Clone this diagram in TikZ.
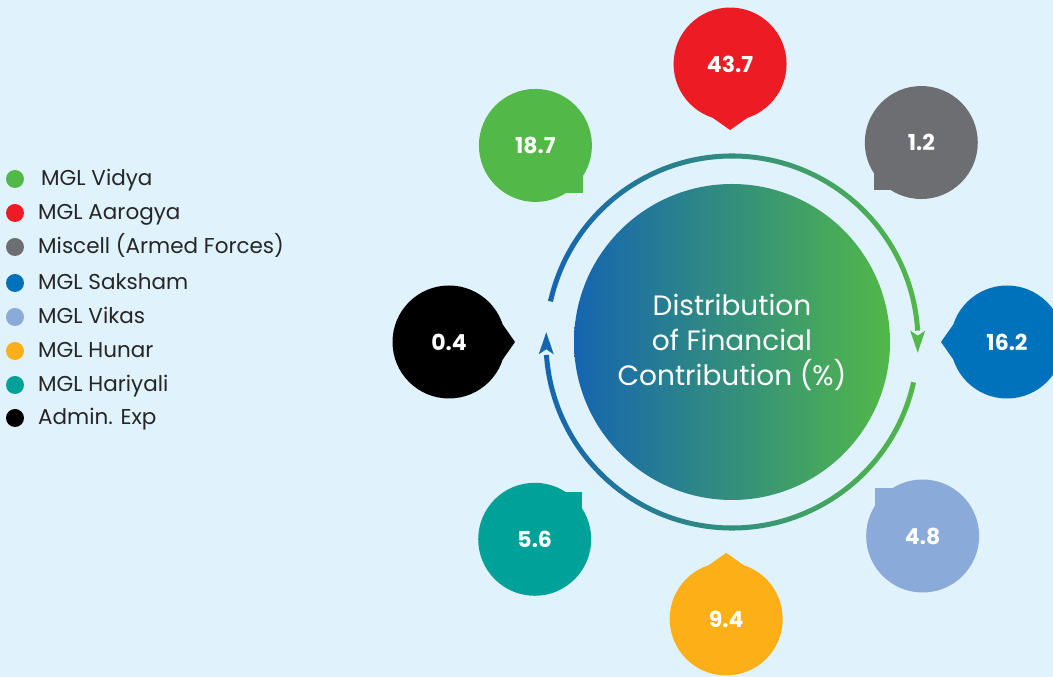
\documentclass[tikz,border=0pt]{standalone}
\usepackage{fontspec}
\setmainfont{Poppins}
\usetikzlibrary{calc}

\definecolor{bgblue}{HTML}{E0F2FC}
\definecolor{vidya}{HTML}{52B848}
\definecolor{aarogya}{HTML}{ED1C24}
\definecolor{miscell}{HTML}{6D6E71}
\definecolor{saksham}{HTML}{0072BC}
\definecolor{vikas}{HTML}{8AABD9}
\definecolor{hunar}{HTML}{FCAF17}
\definecolor{hariyali}{HTML}{00A199}
\definecolor{admin}{HTML}{000000}
\definecolor{hubblue}{HTML}{1565B0}
\definecolor{hubgreen}{HTML}{52B848}

\begin{document}
\begin{tikzpicture}[x=1pt, y=1pt,
    legenddot/.style={circle, inner sep=0pt, minimum size=18pt},
    legendlabel/.style={anchor=base west, inner sep=0pt, text=black!85,
                        font=\fontsize{21.5}{25}\selectfont},
    bubbletext/.style={text=white, inner sep=0pt,
                       font=\bfseries\fontsize{22}{26}\selectfont}]
  \fill [bgblue] (0,0) rectangle (1053,677);
  \useasboundingbox (0,0) rectangle (1053,677);

  % legend
  \node [legenddot, fill=vidya]    (vidyadot)    at (15,498) {};
  \node [legenddot, fill=aarogya]  (aarogyadot)  at (15,464) {};
  \node [legenddot, fill=miscell]  (miscelldot)  at (15,430) {};
  \node [legenddot, fill=saksham]  (sakshamdot)  at (15,394) {};
  \node [legenddot, fill=vikas]    (vikasdot)    at (15,360) {};
  \node [legenddot, fill=hunar]    (hunardot)    at (15,326) {};
  \node [legenddot, fill=hariyali] (hariyalidot) at (15,292) {};
  \node [legenddot, fill=admin]    (admindot)    at (15,259) {};
  \node [legendlabel] (vidyalabel)    at (41,491) {MGL Vidya};
  \node [legendlabel] (aarogyalabel)  at (38,457) {MGL Aarogya};
  \node [legendlabel] (miscelllabel)  at (38,423) {Miscell (Armed Forces)};
  \node [legendlabel] (sakshamlabel)  at (38,387) {MGL Saksham};
  \node [legendlabel] (vikaslabel)    at (38,353) {MGL Vikas};
  \node [legendlabel] (hunarlabel)    at (38,319) {MGL Hunar};
  \node [legendlabel] (hariyalilabel) at (38,285) {MGL Hariyali};
  \node [legendlabel] (adminlabel)    at (38,252) {Admin. Exp};

  % hub and ring
  \node [circle, minimum size=316pt, inner sep=0pt,
         left color=hubblue, right color=hubgreen, text=white, align=center,
         font=\fontsize{28}{35}\selectfont] (hub) at (732,335)
        {Distribution\\of Financial\\Contribution (\%)};

  \begin{scope}[shift={(hub.center)}]
    \shade [left color=hubblue, right color=hubgreen]
           (167.4:188.5) arc [start angle=167.4, end angle=3.5, radius=188.5]
           -- (3.5:183.5) arc [start angle=3.5, end angle=167.4, radius=183.5]
           -- cycle;
    \shade [left color=hubblue, right color=hubgreen]
           (-12.5:188.5) arc [start angle=-12.5, end angle=-176, radius=188.5]
           -- (-176:183.5) arc [start angle=-176, end angle=-12.5, radius=183.5]
           -- cycle;
    \coordinate (downtip) at (-3.3:186);
    \coordinate (uptip) at (177:186);
  \end{scope}
  \fill [hubgreen] (downtip) -- ++(7.5,22) -- ++(-7.5,-5) -- ++(-7.5,5) -- cycle;
  \fill [hubblue] (uptip) -- ++(7.5,-22) -- ++(-7.5,5) -- ++(-7.5,-5) -- cycle;

  % bubbles
  \coordinate (aarogyaC)  at ($(hub)+(90.4:278)$);
  \coordinate (miscellC)  at ($(hub)+(46.5:275)$);
  \coordinate (sakshamC)  at ($(hub)+(0:275)$);
  \coordinate (vikasC)    at ($(hub)+(-45.5:272)$);
  \coordinate (hunarC)    at ($(hub)+(-91.2:277)$);
  \coordinate (hariyaliC) at ($(hub)+(-135:279)$);
  \coordinate (adminC)    at ($(hub)+(180:283)$);
  \coordinate (vidyaC)    at ($(hub)+(135:278)$);

  \fill [aarogya] (aarogyaC) circle (56.5);
  \fill [aarogya] ($(aarogyaC)+(-72:56.5)$) -- ($(aarogyaC)+(-90:66)$) -- ($(aarogyaC)+(-108:56.5)$) -- cycle;
  \fill [saksham] (sakshamC) circle (56.5);
  \fill [saksham] ($(sakshamC)+(162:56.5)$) -- ($(sakshamC)+(180:66)$) -- ($(sakshamC)+(198:56.5)$) -- cycle;
  \fill [hunar] (hunarC) circle (56.5);
  \fill [hunar] ($(hunarC)+(72:56.5)$) -- ($(hunarC)+(90:66)$) -- ($(hunarC)+(108:56.5)$) -- cycle;
  \fill [admin] (adminC) circle (56.5);
  \fill [admin] ($(adminC)+(18:56.5)$) -- ($(adminC)+(0:66)$) -- ($(adminC)+(-18:56.5)$) -- cycle;

  \fill [vidya] (vidyaC) circle (56.5);
  \fill [vidya] (vidyaC) rectangle ++(47.5,-47.5);
  \fill [miscell] (miscellC) circle (56.5);
  \fill [miscell] (miscellC) rectangle ++(-47.5,-47.5);
  \fill [vikas] (vikasC) circle (56.5);
  \fill [vikas] (vikasC) rectangle ++(-47.5,47.5);
  \fill [hariyali] (hariyaliC) circle (56.5);
  \fill [hariyali] (hariyaliC) rectangle ++(47.5,47.5);

  \node [bubbletext] (aarogyaval)  at (aarogyaC)  {43.7};
  \node [bubbletext] (miscellval)  at (miscellC)  {1.2};
  \node [bubbletext] (sakshamval)  at (sakshamC)  {16.2};
  \node [bubbletext] (vikasval)    at (vikasC)    {4.8};
  \node [bubbletext] (hunarval)    at (hunarC)    {9.4};
  \node [bubbletext] (hariyalival) at (hariyaliC) {5.6};
  \node [bubbletext] (adminval)    at (adminC)    {0.4};
  \node [bubbletext] (vidyaval)    at (vidyaC)    {18.7};
\end{tikzpicture}
\end{document}
